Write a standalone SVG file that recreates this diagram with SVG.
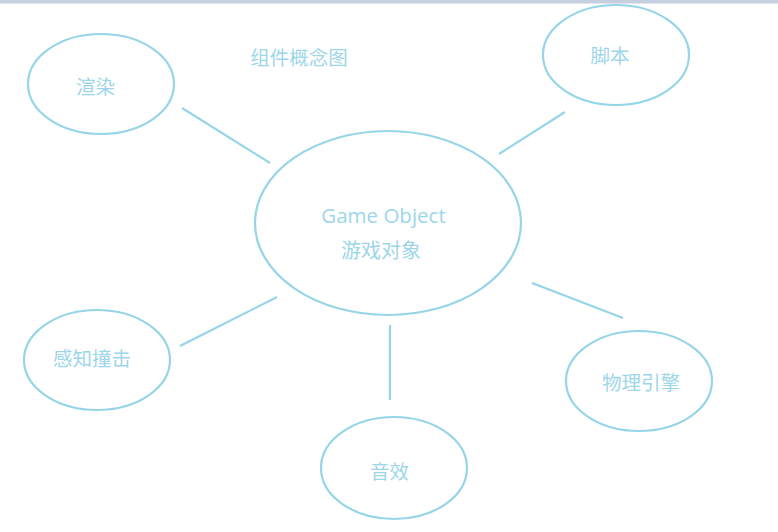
<svg xmlns="http://www.w3.org/2000/svg" width="778" height="532" viewBox="0 0 778 532">
<style>
.n{fill:none;stroke:#96d5e8;stroke-width:2.2}
.c line{stroke:#96d5e8;stroke-width:2.2}
text{fill:#9dd6e8;font-family:"Noto Sans CJK SC","Noto Sans",sans-serif;text-anchor:middle}
.s{font-size:19.5px}
.b{font-size:20px}
</style>
<rect width="778" height="532" fill="#ffffff"/>
<rect x="0" y="0" width="778" height="3.5" fill="#c5cfe0"/>
<text class="s" x="299" y="65">组件概念图</text>
<g class="c">
<line x1="182" y1="108" x2="270" y2="163"/>
<line x1="499" y1="154" x2="565" y2="112"/>
<line x1="180" y1="346" x2="277" y2="297"/>
<line x1="390" y1="325" x2="390" y2="400"/>
<line x1="532" y1="283" x2="623" y2="318"/>
</g>
<g id="render"><ellipse class="n" cx="101" cy="84" rx="73" ry="50"/><text class="s" x="95.5" y="94">渲染</text></g>
<g id="script"><ellipse class="n" cx="616" cy="55" rx="73" ry="50"/><text class="s" x="610" y="62.5">脚本</text></g>
<g id="gameobject"><ellipse class="n" cx="388" cy="223" rx="133" ry="92"/><text x="383.5" y="223" style="font-family:'Open Sans','Noto Sans',sans-serif;font-size:20.5px">Game Object</text><text class="b" x="381" y="258">游戏对象</text></g>
<g id="collide"><ellipse class="n" cx="97" cy="360" rx="73" ry="50"/><text class="s" x="92" y="365.5">感知撞击</text></g>
<g id="physics"><ellipse class="n" cx="639" cy="381" rx="73" ry="50"/><text class="s" x="641" y="390">物理引擎</text></g>
<g id="audio"><ellipse class="n" cx="394" cy="468" rx="73" ry="51"/><text class="s" x="389.5" y="479">音效</text></g>
</svg>
